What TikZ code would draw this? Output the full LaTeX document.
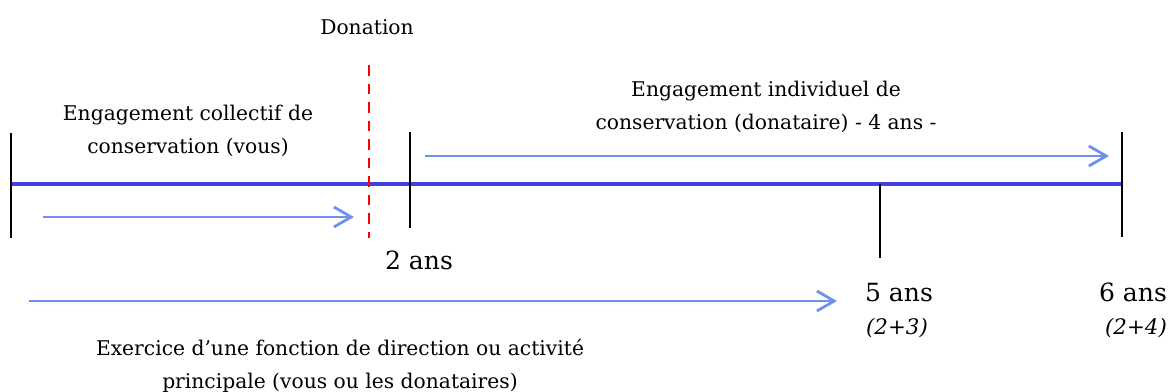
\documentclass[tikz,border=0pt]{standalone}
\usepackage{fontspec}
\setmainfont{DejaVu Serif}
\usetikzlibrary{arrows.meta}
\definecolor{mainblue}{RGB}{64,64,224}
\definecolor{lightblue}{RGB}{112,144,240}
\begin{document}
\begin{tikzpicture}[x=0.75pt,y=-0.75pt,
  lbl/.style={font=\fontsize{15.2}{24.5}\selectfont, align=center, inner sep=0pt},
  big/.style={font=\fontsize{18.8}{22}\selectfont, inner sep=0pt, anchor=base},
  sub/.style={font=\fontsize{16}{19}\selectfont\itshape, inner sep=0pt, anchor=base},
  tick/.style={line width=2.2pt, black},
  period/.style={line width=2.1pt, lightblue, -{Straight Barb[length=13pt,width=15pt,line width=2.1pt]}},
  axis/.style={line width=2.3pt, mainblue}]
\useasboundingbox (0,0) rectangle (1168,392);
% axis
\coordinate (a0) at (11,184);
\coordinate (a1) at (1122,184);
\draw[axis] (a0) -- (a1);
% ticks
\draw[tick] (11,133) -- (11,238);
\draw[tick] (410,132) -- (410,228);
\draw[tick] (880,184) -- (880,258);
\draw[tick] (1122,132) -- (1122,237);
% donation
\draw[red, line width=2.2pt, dash pattern=on 7.9pt off 6pt] (369,65) -- (369,238);
% arrows
\coordinate (p1s) at (43,217);  \coordinate (p1e) at (354,217);
\coordinate (p2s) at (425,156); \coordinate (p2e) at (1109,156);
\coordinate (p3s) at (29,301);  \coordinate (p3e) at (837,301);
\draw[period] (p1s) -- (p1e);
\draw[period] (p2s) -- (p2e);
\draw[period] (p3s) -- (p3e);
% labels
\node[lbl] (don) at (367,27) {Donation};
\node[lbl] (coll) at (188,131) {Engagement collectif de\\conservation (vous)};
\node[lbl] (indiv) at (766,107) {Engagement individuel de\\conservation (donataire) - 4 ans -};
\node[lbl] (exer) at (340,366) {Exercice d’une fonction de direction ou activité\\principale (vous ou les donataires)};
\node[big] (t2) at (419,270) {2 ans};
\node[big] (t5) at (899,301) {5 ans};
\node[sub] (s5) at (897,334) {(2+3)};
\node[big] (t6) at (1133,301) {6 ans};
\node[sub] (s6) at (1136,334) {(2+4)};
\end{tikzpicture}
\end{document}
